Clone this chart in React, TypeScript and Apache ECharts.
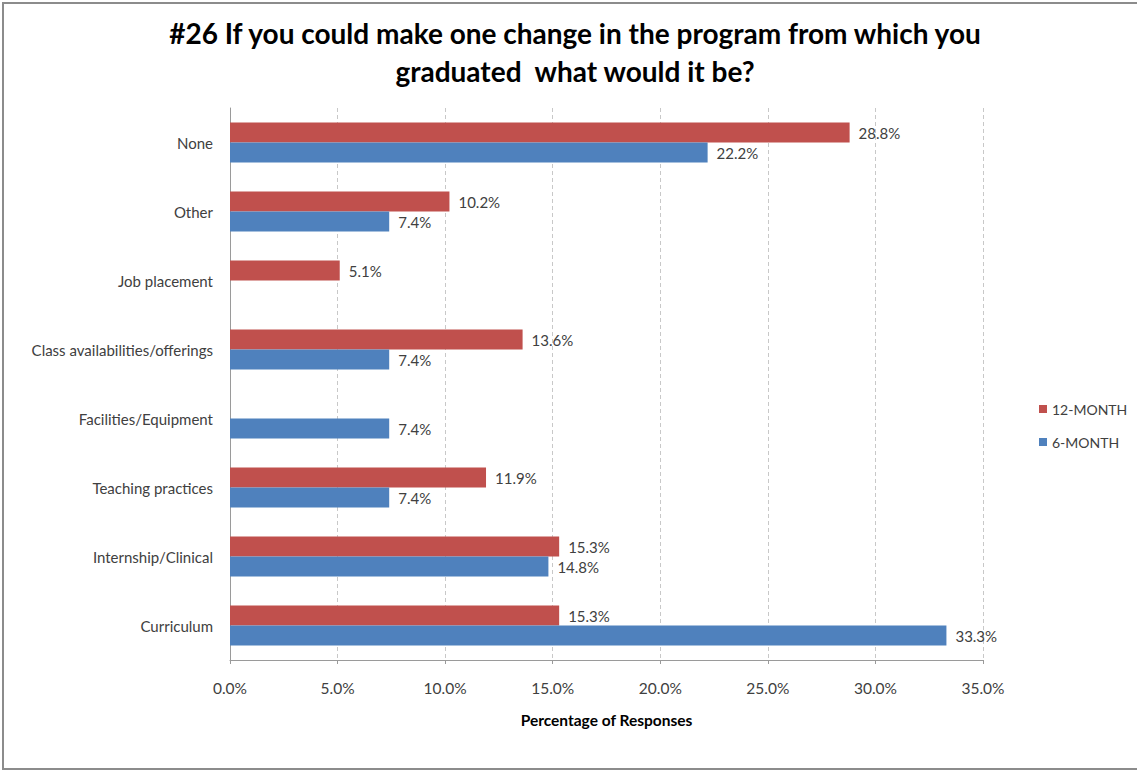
import React, { useEffect, useRef } from "react";
import * as echarts from "echarts";

const categories = [
  "Curriculum",
  "Internship/Clinical",
  "Teaching practices",
  "Facilities/Equipment",
  "Class availabilities/offerings",
  "Job placement",
  "Other",
  "None",
];
const twelveMonth: (number | null)[] = [15.3, 15.3, 11.9, null, 13.6, 5.1, 10.2, 28.8];
const sixMonth: (number | null)[] = [33.3, 14.8, 7.4, 7.4, 7.4, null, 7.4, 22.2];
const seriesNames = ["12-MONTH", "6-MONTH"];
const titleText = "#26 If you could make one change in the program from which you\ngraduated  what would it be?";
const xAxisName = "Percentage of Responses";

const FONT = "Lato";

export default function App() {
  const ref = useRef<HTMLDivElement>(null);
  useEffect(() => {
    document.body.style.margin = "0";
    const chart = echarts.init(ref.current!, null, { renderer: "svg" });
    const labelStyle = {
      show: true,
      position: "right" as const,
      formatter: (p: any) => p.value.toFixed(1) + "%",
      color: "#404040",
      fontSize: 15,
      fontFamily: FONT,
      distance: 9,
    };
    chart.setOption({
      animation: false,
      backgroundColor: "#ffffff",
      title: {
        text: titleText,
        left: 570,
        textAlign: "center",
        top: 9,
        textStyle: {
          fontFamily: FONT,
          fontWeight: "bold",
          fontSize: 28,
          lineHeight: 38,
          color: "#000",
        },
      },
      legend: {
        orient: "vertical",
        left: 1034,
        top: 397,
        itemWidth: 8,
        itemHeight: 8,
        itemGap: 19,
        icon: "rect",
        data: seriesNames,
        textStyle: { fontFamily: FONT, fontSize: 14, color: "#404040" },
      },
      grid: { left: 230, right: 1137 - 983, top: 108, bottom: 774 - 660, containLabel: false },
      xAxis: {
        type: "value",
        min: 0,
        max: 35,
        interval: 5,
        name: xAxisName,
        nameLocation: "middle",
        nameGap: 52,
        nameTextStyle: { fontFamily: FONT, fontWeight: "bold", fontSize: 15.5, color: "#000" },
        axisLine: { show: true, lineStyle: { color: "#9a9a9a", width: 1 } },
        axisTick: { show: true, length: 4, lineStyle: { color: "#9a9a9a" } },
        axisLabel: {
          formatter: (v: number) => v.toFixed(1) + "%",
          fontFamily: FONT,
          fontSize: 15.5,
          color: "#404040",
          margin: 20,
        },
        splitLine: { show: true, lineStyle: { color: "#c8c8c8", type: [4, 3] } },
      },
      yAxis: {
        type: "category",
        data: categories,
        axisLine: { show: true, lineStyle: { color: "#9a9a9a", width: 1 } },
        axisTick: { show: false },
        axisLabel: { fontFamily: FONT, fontSize: 15, color: "#404040", margin: 17 },
      },
      series: [
        {
          name: "12-MONTH",
          type: "bar",
          data: twelveMonth,
          itemStyle: { color: "#c0504d" },
          barWidth: 20,
          barGap: "0%",
          label: labelStyle,
        },
        {
          name: "6-MONTH",
          type: "bar",
          data: sixMonth,
          itemStyle: { color: "#4f81bd" },
          barWidth: 20,
          barGap: "0%",
          label: labelStyle,
        },
      ],
      graphic: [
        {
          type: "rect",
          shape: { x: 3, y: 3, width: 1150, height: 766 },
          style: { fill: "none", stroke: "#8c8c8c", lineWidth: 2 },
          silent: true,
        },
      ],
    });
    return () => chart.dispose();
  }, []);
  return <div ref={ref} style={{ width: 1137, height: 774 }} />;
}
